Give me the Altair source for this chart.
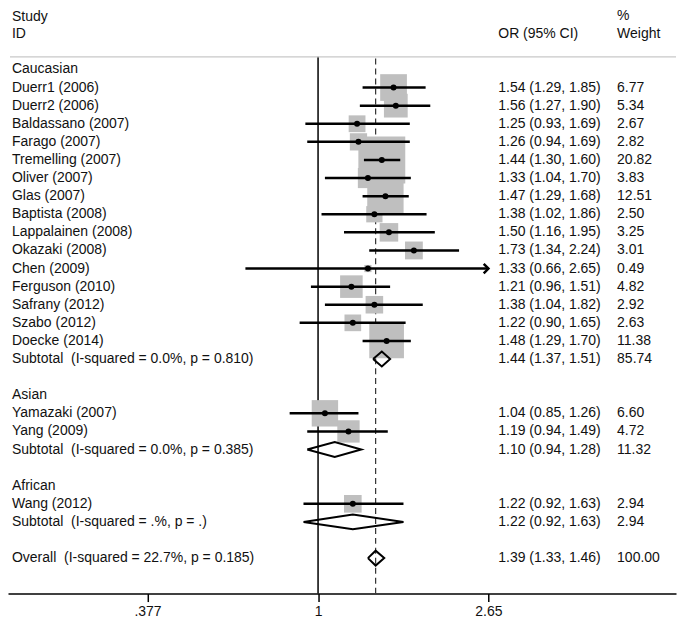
import altair as alt
import pandas as pd

# ---------------- data ----------------
labels = [
    "Caucasian",
    "Duerr1 (2006)", "Duerr2 (2006)", "Baldassano (2007)", "Farago (2007)",
    "Tremelling (2007)", "Oliver (2007)", "Glas (2007)", "Baptista (2008)",
    "Lappalainen (2008)", "Okazaki (2008)", "Chen (2009)", "Ferguson (2010)",
    "Safrany (2012)", "Szabo (2012)", "Doecke (2014)",
    "Subtotal\u00a0 (I-squared = 0.0%, p = 0.810)",
    "",
    "Asian",
    "Yamazaki (2007)", "Yang (2009)",
    "Subtotal\u00a0 (I-squared = 0.0%, p = 0.385)",
    "",
    "African",
    "Wang (2012)",
    "Subtotal\u00a0 (I-squared = .%, p = .)",
    "",
    "Overall\u00a0 (I-squared = 22.7%, p = 0.185)",
]
kinds = [
    "group",
    "study", "study", "study", "study", "study", "study", "study", "study",
    "study", "study", "study", "study", "study", "study", "study",
    "subtotal", "blank",
    "group", "study", "study", "subtotal", "blank",
    "group", "study", "subtotal", "blank",
    "overall",
]
or_vals = [
    None,
    1.54, 1.56, 1.25, 1.26, 1.44, 1.33, 1.47, 1.38, 1.50, 1.73, 1.33, 1.21, 1.38, 1.22, 1.48,
    1.44, None,
    None, 1.04, 1.19, 1.10, None,
    None, 1.22, 1.22, None,
    1.39,
]
lo_vals = [
    None,
    1.29, 1.27, 0.93, 0.94, 1.30, 1.04, 1.29, 1.02, 1.16, 1.34, 0.66, 0.96, 1.04, 0.90, 1.29,
    1.37, None,
    None, 0.85, 0.94, 0.94, None,
    None, 0.92, 0.92, None,
    1.33,
]
hi_vals = [
    None,
    1.85, 1.90, 1.69, 1.69, 1.60, 1.70, 1.68, 1.86, 1.95, 2.24, 2.65, 1.51, 1.82, 1.65, 1.70,
    1.51, None,
    None, 1.26, 1.49, 1.28, None,
    None, 1.63, 1.63, None,
    1.46,
]
weights = [
    None,
    6.77, 5.34, 2.67, 2.82, 20.82, 3.83, 12.51, 2.50, 3.25, 3.01, 0.49, 4.82, 2.92, 2.63, 11.38,
    85.74, None,
    None, 6.60, 4.72, 11.32, None,
    None, 2.94, 2.94, None,
    100.00,
]

header_texts = ["Study", "ID", "OR (95% CI)", "%", "Weight"]
header_rows = [-2.9, -1.95, -1.95, -2.95, -1.95]
header_x = [4, 4, 491, 610, 610]

tick_vals = [0.377, 1, 2.65]
tick_labels = [".377", "1", "2.65"]

# ---------------- layout constants ----------------
W, H = 669, 582
ROW_TOP, ROW_BOTTOM = -3.15, 28.96
SEP_ROW = -0.70
X_DOMAIN = [0.16975, 7.747]
COL_LABEL, COL_OR, COL_W = 4, 491, 610
FONT = "Liberation Sans"
FS = 14
TXT = "#111111"

# ---------------- frames ----------------
df = pd.DataFrame(dict(row=list(range(len(labels))), label=labels, kind=kinds,
                       est=or_vals, lo=lo_vals, hi=hi_vals, w=weights))


def or_text(d):
    if pd.isna(d.est):
        return ""
    return f"{d.est:.2f} ({d.lo:.2f}, {d.hi:.2f})"


df["or_text"] = df.apply(or_text, axis=1)
df["w_text"] = df["w"].apply(lambda v: "" if pd.isna(v) else f"{v:.2f}")

studies = df[df.kind == "study"].copy()
subs = df[df.kind.isin(["subtotal", "overall"])].copy()
overall = df[df.kind == "overall"].iloc[0]

# diamonds
HALF = 0.41
drows = []
for _, d in subs.iterrows():
    pts = [(d.lo, d.row), (d.est, d.row - HALF), (d.hi, d.row), (d.est, d.row + HALF), (d.lo, d.row)]
    for i, (xv, yv) in enumerate(pts):
        drows.append(dict(g=int(d.row), i=i, x=xv, y=yv))
diam = pd.DataFrame(drows)

arrows = studies[studies.hi >= tick_vals[-1]].copy()

reflines = pd.DataFrame(dict(x=[1.0], y0=[SEP_ROW], y1=[ROW_BOTTOM]))
dashline = pd.DataFrame(dict(x=[float(overall.est)], y0=[SEP_ROW + 0.1], y1=[ROW_BOTTOM]))
sep = pd.DataFrame(dict(y=[SEP_ROW]))
header = pd.DataFrame(dict(t=header_texts, row=header_rows, px=header_x))

# ---------------- scales ----------------
label_expr = "''"
for v, t in reversed(list(zip(tick_vals, tick_labels))):
    label_expr = f"abs(datum.value - {v}) < 1e-6 ? '{t}' : ({label_expr})"

xs = alt.Scale(type="log", domain=X_DOMAIN, nice=False)
ys = alt.Scale(domain=[ROW_TOP, ROW_BOTTOM], reverse=True, nice=False, zero=False)
xaxis = alt.Axis(values=tick_vals, labelExpr=label_expr, title=None, grid=False,
                 domainColor="black", domainWidth=1.5, tickColor="black", tickWidth=1.5,
                 tickSize=8, labelFont=FONT, labelFontSize=FS, labelColor=TXT,
                 labelPadding=3, labelFlush=False)

# ---------------- layers ----------------
null_line = alt.Chart(reflines).mark_rule(color="black", strokeWidth=1.5).encode(
    x=alt.X("x:Q", scale=xs, axis=xaxis),
    y=alt.Y("y0:Q", scale=ys, axis=None),
    y2="y1:Q",
)
dash_line = alt.Chart(dashline).mark_rule(color="#333333", strokeWidth=1.2, strokeDash=[6, 4]).encode(
    x=alt.X("x:Q", scale=xs, axis=xaxis),
    y=alt.Y("y0:Q", scale=ys, axis=None),
    y2="y1:Q",
)
sep_line = alt.Chart(sep).mark_rule(color="#c8c8c8", strokeWidth=1.2).encode(
    x=alt.value(2), x2=alt.value(W),
    y=alt.Y("y:Q", scale=ys, axis=None),
)
boxes = alt.Chart(studies).mark_square(color="#bfbfbf", opacity=1).encode(
    x=alt.X("est:Q", scale=xs, axis=xaxis),
    y=alt.Y("row:Q", scale=ys, axis=None),
    size=alt.Size("w:Q", scale=alt.Scale(type="linear", domain=[0, 100], range=[0, 10600]), legend=None),
)
ci = alt.Chart(studies).mark_rule(color="black", strokeWidth=2.5).encode(
    x=alt.X("lo:Q", scale=xs, axis=xaxis),
    x2="hi:Q",
    y=alt.Y("row:Q", scale=ys, axis=None),
)
pts = alt.Chart(studies).mark_circle(color="black", size=36, opacity=1).encode(
    x=alt.X("est:Q", scale=xs, axis=xaxis),
    y=alt.Y("row:Q", scale=ys, axis=None),
)
arrow = alt.Chart(arrows).mark_point(shape="M-1,-1L0,0L-1,1", filled=False, color="black",
                                     strokeWidth=2.5, size=90, opacity=1).encode(
    x=alt.X("hi:Q", scale=xs, axis=xaxis),
    y=alt.Y("row:Q", scale=ys, axis=None),
)
diamonds = alt.Chart(diam).mark_line(color="black", strokeWidth=2, strokeJoin="miter").encode(
    x=alt.X("x:Q", scale=xs, axis=xaxis),
    y=alt.Y("y:Q", scale=ys, axis=None),
    detail="g:N",
    order="i:Q",
)

txt_kw = dict(align="left", baseline="middle", font=FONT, fontSize=FS, color=TXT)
t_label = alt.Chart(df).mark_text(**txt_kw).encode(
    x=alt.value(COL_LABEL), y=alt.Y("row:Q", scale=ys, axis=None), text="label:N")
t_or = alt.Chart(df).mark_text(**txt_kw).encode(
    x=alt.value(COL_OR), y=alt.Y("row:Q", scale=ys, axis=None), text="or_text:N")
t_w = alt.Chart(df).mark_text(**txt_kw).encode(
    x=alt.value(COL_W), y=alt.Y("row:Q", scale=ys, axis=None), text="w_text:N")
t_head = alt.Chart(header).mark_text(**txt_kw).encode(
    x=alt.X("px:Q", scale=None), y=alt.Y("row:Q", scale=ys, axis=None), text="t:N")

chart = alt.layer(
    null_line, dash_line, sep_line, boxes, ci, pts, arrow, diamonds,
    t_label, t_or, t_w, t_head,
).properties(
    width=W, height=H, padding=0, background="white"
).configure_view(stroke=None)

chart.save("out.html", embed_options={"renderer": "svg", "actions": False})
